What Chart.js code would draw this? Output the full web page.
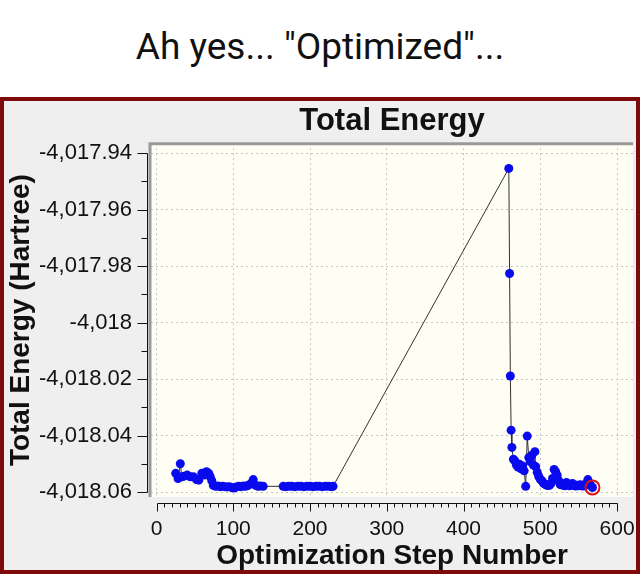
<!DOCTYPE html>
<html><head><meta charset="utf-8">
<script src="https://cdn.jsdelivr.net/npm/chart.js@4.4.1/dist/chart.umd.min.js"></script>
<style>
html,body{margin:0;padding:0;background:#fff;width:640px;height:574px;overflow:hidden}
#cap{position:absolute;left:0;top:25px;width:640px;text-align:center;font:37px Roboto, sans-serif;line-height:44px;color:#111}
#frame{position:absolute;left:0;top:97px;width:640px;height:477px;box-sizing:border-box;border:4px solid #7d0b0b;background:#efefef}
#wrap{position:absolute;left:0;top:0;width:632px;height:469px}
</style></head><body>
<div id="cap">Ah yes... "Optimized"...</div>
<div id="frame"><div id="wrap"><canvas id="c"></canvas></div></div>
<script>
// ---- data ----
const earlySteps = [25, 28, 31, 33, 36, 40, 44, 48, 52, 55, 59, 62, 65, 68, 70, 72, 74, 77, 80, 83, 86, 89, 92, 95, 98, 101, 104, 107, 110, 113, 116, 119, 122, 126, 129, 132, 135, 139];
const earlyEnergy = [-4018.0534, -4018.0552, -4018.0500, -4018.0546, -4018.0544, -4018.0540, -4018.0546, -4018.0546, -4018.0556, -4018.0558,
  -4018.0534, -4018.0540, -4018.0528, -4018.0534, -4018.0546, -4018.0560, -4018.0576, -4018.0580, -4018.0579, -4018.0581,
  -4018.0580, -4018.0581, -4018.0582, -4018.0581, -4018.0584, -4018.0586, -4018.0582, -4018.0580, -4018.0581, -4018.0579,
  -4018.0580, -4018.0577, -4018.0572, -4018.0556, -4018.0576, -4018.0580, -4018.0579, -4018.0580];
const plateauSteps = [165, 168, 172, 176, 180, 184, 188, 192, 196, 200, 204, 208, 212, 216, 220, 224, 228, 230];
const plateauEnergy = [-4018.0580, -4018.0581, -4018.0580, -4018.0580, -4018.0581, -4018.0580, -4018.0580, -4018.0581, -4018.0580,
  -4018.0580, -4018.0581, -4018.0580, -4018.0580, -4018.0581, -4018.0580, -4018.0580, -4018.0581, -4018.0580];
const tailSteps = [459, 460, 461, 462, 463, 465, 467, 469, 471, 473, 475, 477, 479, 481, 483, 485, 487, 489, 491, 493,
  494, 496, 498, 500, 502, 504, 506, 508, 510, 512, 514, 516, 518, 520, 522, 524, 526, 528, 530, 532,
  534, 536, 538, 540, 542, 544, 546, 548, 550, 552, 554, 556, 558, 560, 562, 564, 566, 568];
const tailEnergy = [-4017.9454, -4017.9826, -4018.0189, -4018.0381, -4018.0442, -4018.0484, -4018.0490, -4018.0505, -4018.0512, -4018.0502,
  -4018.0518, -4018.0508, -4018.0525, -4018.0580, -4018.0402, -4018.0478, -4018.0492, -4018.0470, -4018.0505, -4018.0457,
  -4018.0510, -4018.0530, -4018.0545, -4018.0555, -4018.0560, -4018.0568, -4018.0572, -4018.0575, -4018.0577, -4018.0576,
  -4018.0570, -4018.0552, -4018.0520, -4018.0528, -4018.0540, -4018.0560, -4018.0574, -4018.0570, -4018.0576, -4018.0578,
  -4018.0566, -4018.0572, -4018.0578, -4018.0575, -4018.0570, -4018.0577, -4018.0579, -4018.0576, -4018.0578, -4018.0574,
  -4018.0578, -4018.0579, -4018.0577, -4018.0570, -4018.0556, -4018.0572, -4018.0578, -4018.0584];
const xTicks = [0, 100, 200, 300, 400, 500, 600];
const xTickLabels = ["0", "100", "200", "300", "400", "500", "600"];
const yTicks = [-4017.94, -4017.96, -4017.98, -4018, -4018.02, -4018.04, -4018.06];
const yTickLabels = ["-4,017.94", "-4,017.96", "-4,017.98", "-4,018", "-4,018.02", "-4,018.04", "-4,018.06"];
const xMin = -7.2, xMax = 620.8;
const yMin = -4018.06177, yMax = -4017.93646;

// ---- build ----
const allSteps = earlySteps.concat(plateauSteps, tailSteps);
const allEnergy = earlyEnergy.concat(plateauEnergy, tailEnergy);
const pts = allSteps.map((s, i) => ({x: s, y: allEnergy[i]}));
const lastPt = [{x: tailSteps[tailSteps.length - 1], y: tailEnergy[tailEnergy.length - 1]}];

const TXT = '#111';
const deco = {
  id: 'deco',
  beforeDraw(chart) {
    const {ctx, chartArea: a} = chart;
    ctx.save();
    ctx.fillStyle = '#fefef4';
    ctx.fillRect(a.left, a.top, a.right - a.left, a.bottom - a.top);
    ctx.restore();
  },
  beforeDatasetsDraw(chart) {
    const {ctx, chartArea: a} = chart;
    ctx.save();
    ctx.strokeStyle = '#999';
    ctx.lineWidth = 3;
    ctx.beginPath();
    ctx.moveTo(a.left - 1, a.bottom);
    ctx.lineTo(a.left - 1, a.top + 0.5);
    ctx.lineTo(a.right, a.top + 0.5);
    ctx.stroke();
    ctx.restore();
  },
  afterDraw(chart) {
    const {ctx, chartArea: a} = chart;
    const xs = chart.scales.x, ys = chart.scales.y;
    ctx.save();
    ctx.strokeStyle = TXT;
    ctx.lineWidth = 1;
    // x axis
    const yAx = Math.round(a.bottom + 6) + 0.5;
    const x0 = xs.getPixelForValue(xTicks[0]), x1 = xs.getPixelForValue(xTicks[xTicks.length - 1]);
    ctx.beginPath();
    ctx.moveTo(Math.round(x0) + 0.5, yAx); ctx.lineTo(Math.round(x1) + 0.5, yAx);
    for (let v = xTicks[0]; v <= xTicks[xTicks.length - 1] + 0.001; v += 10) {
      const px = Math.round(xs.getPixelForValue(v)) + 0.5;
      const major = Math.abs(v % 100) < 0.001;
      ctx.moveTo(px, yAx); ctx.lineTo(px, yAx + (major ? 8 : 4));
    }
    ctx.stroke();
    // y axis
    const xAx = Math.round(a.left - 4) + 0.5;
    const y0 = ys.getPixelForValue(yTicks[0]), y1 = ys.getPixelForValue(yTicks[yTicks.length - 1]);
    ctx.beginPath();
    ctx.moveTo(xAx, Math.round(y0) + 0.5); ctx.lineTo(xAx, Math.round(y1) + 0.5);
    yTicks.forEach((v, i) => {
      const py = Math.round(ys.getPixelForValue(v)) + 0.5;
      ctx.moveTo(xAx, py); ctx.lineTo(xAx - 10, py);
      if (i < yTicks.length - 1) {
        const pm = Math.round((ys.getPixelForValue(v) + ys.getPixelForValue(yTicks[i + 1])) / 2) + 0.5;
        ctx.moveTo(xAx, pm); ctx.lineTo(xAx - 6, pm);
      }
    });
    ctx.stroke();
    ctx.restore();
  }
};

new Chart(document.getElementById('c'), {
  type: 'scatter',
  data: {
    datasets: [
      {
        data: lastPt,
        showLine: false,
        pointRadius: 7,
        pointBackgroundColor: 'rgba(0,0,0,0)',
        pointBorderColor: '#e01010',
        pointBorderWidth: 2,
        order: 0
      },
      {
        data: pts,
        showLine: true,
        borderColor: '#333',
        borderWidth: 1,
        pointRadius: 4.5,
        pointBackgroundColor: '#0a0aee',
        pointBorderWidth: 0,
        order: 1
      }
    ]
  },
  options: {
    responsive: true,
    maintainAspectRatio: false,
    animation: false,
    layout: {autoPadding: false, padding: {left: 0, right: 3, top: 0, bottom: 0}},
    plugins: {
      legend: {display: false},
      tooltip: {enabled: false},
      title: {
        display: true,
        text: 'Total Energy',
        fullSize: false,
        color: TXT,
        font: {family: 'Liberation Sans, Arial, sans-serif', size: 31, weight: 'bold'},
        padding: {top: 2, bottom: 3}
      }
    },
    scales: {
      x: {
        type: 'linear', min: xMin, max: xMax,
        afterFit(s) { s.height = 73; s.paddingLeft = 0; s.paddingRight = 0; },
        afterBuildTicks(s) { s.ticks = xTicks.map(v => ({value: v})); },
        ticks: {
          callback: (v, i) => xTickLabels[i],
          color: TXT, padding: 20, maxRotation: 0, autoSkip: false,
          font: {family: 'Liberation Sans, Arial, sans-serif', size: 21}
        },
        grid: {color: '#c6c6c6', lineWidth: 1, drawTicks: false},
        border: {display: false, dash: [2, 3]},
        title: {
          display: true, text: 'Optimization Step Number', color: TXT,
          font: {family: 'Liberation Sans, Arial, sans-serif', size: 28, weight: 'bold', lineHeight: 1.0},
          padding: {top: 0, bottom: 0}
        }
      },
      y: {
        type: 'linear', min: yMin, max: yMax,
        afterFit(s) { s.width = 147; s.paddingTop = 0; s.paddingBottom = 0; },
        afterBuildTicks(s) { s.ticks = yTicks.map(v => ({value: v})); },
        ticks: {
          callback: (v, i) => yTickLabels[i],
          color: TXT, padding: 19, autoSkip: false,
          font: {family: 'Liberation Sans, Arial, sans-serif', size: 22}
        },
        grid: {color: '#c6c6c6', lineWidth: 1, drawTicks: false},
        border: {display: false, dash: [2, 3]},
        title: {
          display: true, text: 'Total Energy (Hartree)', color: TXT,
          font: {family: 'Liberation Sans, Arial, sans-serif', size: 28, weight: 'bold'},
          padding: {top: 0, bottom: 0}
        }
      }
    }
  },
  plugins: [deco]
});
</script>
</body></html>
